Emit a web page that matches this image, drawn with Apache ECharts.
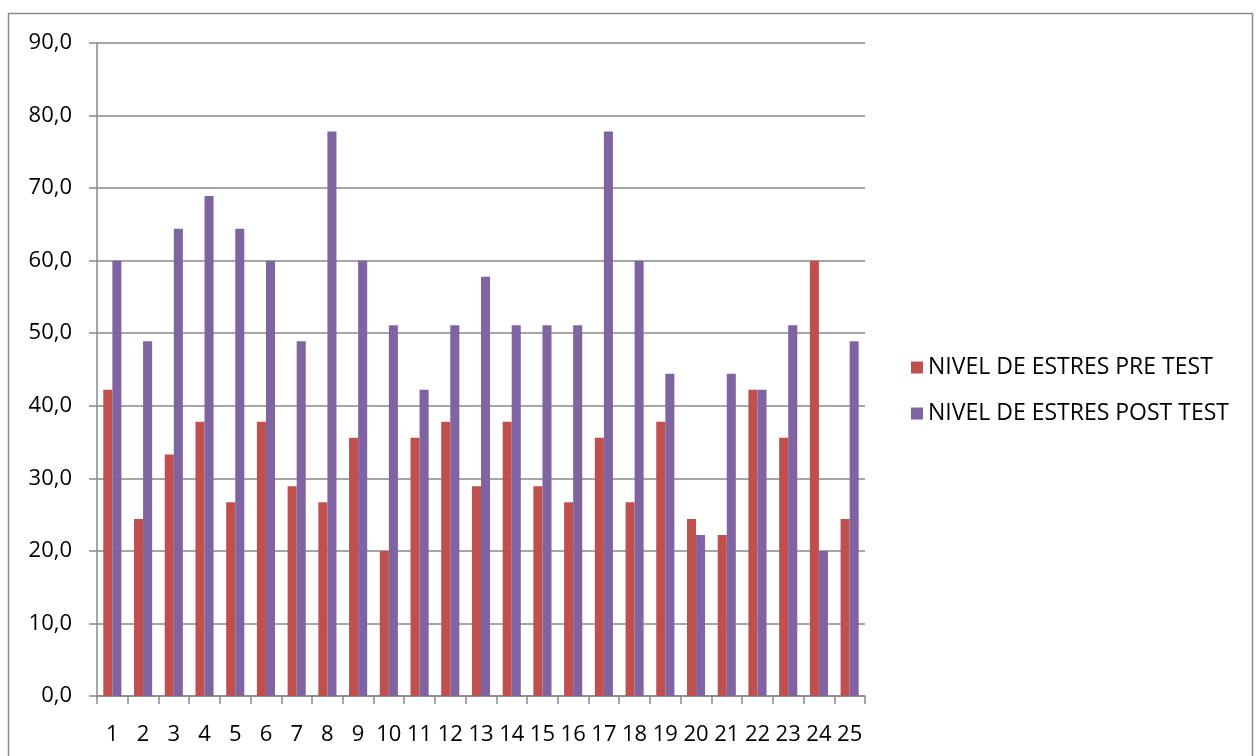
<!DOCTYPE html>
<html>
<head>
<meta charset="utf-8">
<script src="https://cdn.jsdelivr.net/npm/echarts@6/dist/echarts.min.js"></script>
<style>
  html, body { margin: 0; padding: 0; background: #fff; }
  #chart { width: 1258px; height: 756px; }
</style>
</head>
<body>
<div id="chart"></div>
<script>
// Participants 1..25
const categories = ['1','2','3','4','5','6','7','8','9','10','11','12','13','14','15','16','17','18','19','20','21','22','23','24','25'];
const preTest  = [42.2, 24.4, 33.3, 37.8, 26.7, 37.8, 28.9, 26.7, 35.6, 20.0, 35.6, 37.8, 28.9, 37.8, 28.9, 26.7, 35.6, 26.7, 37.8, 24.4, 22.2, 42.2, 35.6, 60.0, 24.4];
const postTest = [60.0, 48.9, 64.4, 68.9, 64.4, 60.0, 48.9, 77.8, 60.0, 51.1, 42.2, 51.1, 57.8, 51.1, 51.1, 51.1, 77.8, 60.0, 44.4, 22.2, 44.4, 42.2, 51.1, 20.0, 48.9];
const seriesNames = ['NIVEL DE ESTRES PRE TEST', 'NIVEL DE ESTRES POST TEST'];

const FONT = '"Open Sans", "Liberation Sans", sans-serif';
const chart = echarts.init(document.getElementById('chart'));
chart.setOption({
  animation: false,
  backgroundColor: '#fff',
  graphic: [{
    type: 'rect',
    shape: { x: 8.5, y: 13.5, width: 1244, height: 760 },
    style: { fill: 'none', stroke: '#8c8c8c', lineWidth: 1.5 },
    silent: true
  }],
  grid: { left: 97, right: 393, top: 43, bottom: 60, containLabel: false },
  legend: {
    orient: 'vertical',
    left: 906,
    top: 351,
    itemWidth: 12,
    itemHeight: 12,
    itemGap: 23,
    icon: 'rect',
    textStyle: { fontFamily: FONT, fontSize: 23, color: '#000' },
    data: seriesNames
  },
  xAxis: {
    type: 'category',
    data: categories,
    axisLine: { lineStyle: { color: '#888', width: 1.5 } },
    axisTick: { show: true, length: 8, lineStyle: { color: '#888', width: 1.5 } },
    axisLabel: { fontFamily: FONT, fontSize: 22, color: '#000', margin: 28, interval: 0 }
  },
  yAxis: {
    type: 'value',
    min: 0,
    max: 90,
    interval: 10,
    axisLine: { show: true, lineStyle: { color: '#888', width: 1.5 } },
    axisTick: { show: true, length: 8, lineStyle: { color: '#888', width: 1.5 } },
    splitLine: { lineStyle: { color: '#888', width: 1.5 } },
    axisLabel: {
      fontFamily: FONT, fontSize: 22, color: '#000', margin: 25,
      formatter: v => v.toFixed(1).replace('.', ',')
    }
  },
  series: [
    {
      name: seriesNames[0], type: 'bar', data: preTest,
      itemStyle: { color: '#C0504D' },
      barGap: '0%', barCategoryGap: '41%'
    },
    {
      name: seriesNames[1], type: 'bar', data: postTest,
      itemStyle: { color: '#8064A2' },
      barGap: '0%', barCategoryGap: '41%'
    }
  ]
});
</script>
</body>
</html>
